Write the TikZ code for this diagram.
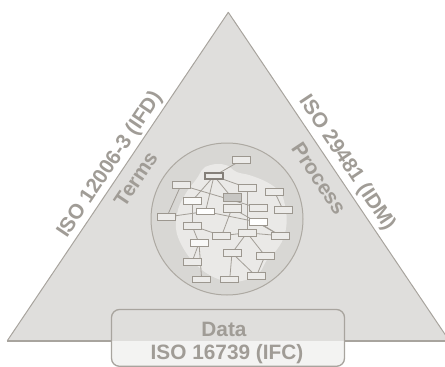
\documentclass[tikz,border=0pt]{standalone}
\usepackage{fontspec}
\setmainfont{Liberation Sans}
\pgfdeclarelayer{back}
\pgfdeclarelayer{edges}
\pgfsetlayers{back,edges,main}
\definecolor{trifill}{HTML}{DFDEDC}
\definecolor{triline}{HTML}{A8A49E}
\definecolor{ringfill}{HTML}{D8D7D4}
\definecolor{ringline}{HTML}{ADA9A2}
\definecolor{blobfill}{HTML}{EAE9E7}
\definecolor{boxfill}{HTML}{ECEBE9}
\definecolor{boxline}{HTML}{9C978F}
\definecolor{edgecol}{HTML}{A39E97}
\definecolor{labelcol}{HTML}{A09C96}
\definecolor{datalow}{HTML}{F3F3F2}
\tikzset{
  ent/.style={draw=boxline, fill=boxfill, line width=0.9pt, minimum width=18pt,
    minimum height=6.8pt, inner sep=0pt},
  entkey/.style={ent, draw=boxline!85!black, line width=2pt, minimum width=18pt, minimum height=6.5pt},
  entwhite/.style={ent, fill=white!70!boxfill},
  entdark/.style={ent, fill=ringfill!92!black, minimum height=8pt},
  enttall/.style={ent, minimum height=8pt},
  link/.style={draw=edgecol, line width=0.8pt},
  lbl/.style={text=labelcol, font=\fontsize{20.8}{24}\selectfont\bfseries, inner sep=0pt}
}
\begin{document}
\begin{tikzpicture}[x=1pt, y=-1pt]
\useasboundingbox (0,0) rectangle (445,367);
\clip (0,0) rectangle (445,367);

\begin{pgfonlayer}{back}
  % triangle
  \fill[trifill] (228.3,12.3) -- (449.3,340.7) -- (7.3,340.7) -- cycle;
  \draw[triline, line width=1pt, line join=round] (7.3,340.7) -- (228.3,12.3) -- (449.3,340.7);
  \draw[triline, line width=1.6pt] (7.3,340.7) -- (449.3,340.7);
  % central disc
  \fill[ringfill] (227,219) circle (76);
  \draw[ringline, line width=1pt] (227,219) circle (76);
  % lighter irregular core
  \fill[blobfill] plot[smooth cycle, tension=0.6] coordinates {
    (205,167) (216,164) (226.7,165.3) (236.7,172) (250,175.3) (266.7,182)
    (280,192) (285,205.3) (286.7,222) (283.3,238.7) (275,252) (266.7,260.3)
    (260,272) (250,278.7) (230,282) (210,275.3) (193.3,262) (181.7,245.3)
    (176,228.7) (178.3,208.7) (186.7,192) (196.7,178.7) (201.7,170.3)};
\end{pgfonlayer}

% entity boxes of the network
\node[ent]      (b1)  at (241.7,160)   {};
\node[entkey]   (b2)  at (214,176)     {};
\node[ent]      (b3)  at (181,185)     {};
\node[ent]      (b4)  at (247,187.7)   {};
\node[ent]      (b5)  at (274.5,191.7) {};
\node[entwhite] (b6)  at (192,201)     {};
\node[entdark]  (b7)  at (232,197.8)   {};
\node[enttall]  (b8)  at (232,208)     {};
\node[entwhite, fill=white] (b9) at (205.5,211.5) {};
\node[ent]      (b10) at (258.3,208)   {};
\node[ent]      (b11) at (283,209.7)   {};
\node[ent]      (b12) at (166.8,217)   {};
\node[entwhite, fill=white] (b13) at (258.3,222.2) {};
\node[ent]      (b14) at (192,225.7)   {};
\node[ent]      (b15) at (221.7,235.7) {};
\node[ent]      (b16) at (247,232.8)   {};
\node[ent]      (b17) at (280.3,235.7) {};
\node[entwhite] (b18) at (199,243)     {};
\node[ent]      (b19) at (232,253)     {};
\node[ent]      (b20) at (265,255.7)   {};
\node[ent]      (b21) at (192,262)     {};
\node[ent]      (b22) at (201.7,279.5) {};
\node[ent]      (b23) at (229.7,279.5) {};
\node[ent]      (b24) at (256.3,276.3) {};

% relations between the boxes
\begin{pgfonlayer}{edges}
  \foreach \a/\b in {b1/b2, b2/b6, b2/b9, b2/b7, b2/b4, b3/b10, b3/b12,
      b12/b9, b9/b13, b6/b14, b14/b18, b14/b15, b15/b16, b16/b17,
      b8/b15, b8/b17, b5/b11, b13/b17, b16/b19, b16/b20, b19/b23,
      b19/b24, b20/b24, b18/b21, b18/b22}
    \draw[link] (\a.center) -- (\b.center);
  \draw[link] (b4.center) -- (b4.center |- b16.center);
\end{pgfonlayer}

% side labels
\node[lbl, rotate=56.1]  (ifd)  at (110,165)   {ISO 12006-3 (IFD)};
\node[lbl, rotate=56.1]  (terms) at (135.7,179) {Terms};
\node[lbl, rotate=-56.4] (idm)  at (346.7,163.3) {ISO 29481 (IDM)};
\node[lbl, rotate=-56.4] (proc) at (319,178.3)  {Process};

% data tab at the base
\fill[datalow, rounded corners=8pt] (111.5,309.5) rectangle (344.5,366.3);
\begin{scope}
  \clip (100,300) rectangle (360,340.7);
  \fill[trifill, rounded corners=8pt] (111.5,309.5) rectangle (344.5,366.3);
\end{scope}
\draw[triline, line width=1.3pt, rounded corners=8pt] (111.5,309.5) rectangle (344.5,366.3);
\node[lbl] (data) at (224,329.5) {Data};
\node[lbl] (ifc)  at (227,354.5) {ISO 16739 (IFC)};
\end{tikzpicture}
\end{document}
